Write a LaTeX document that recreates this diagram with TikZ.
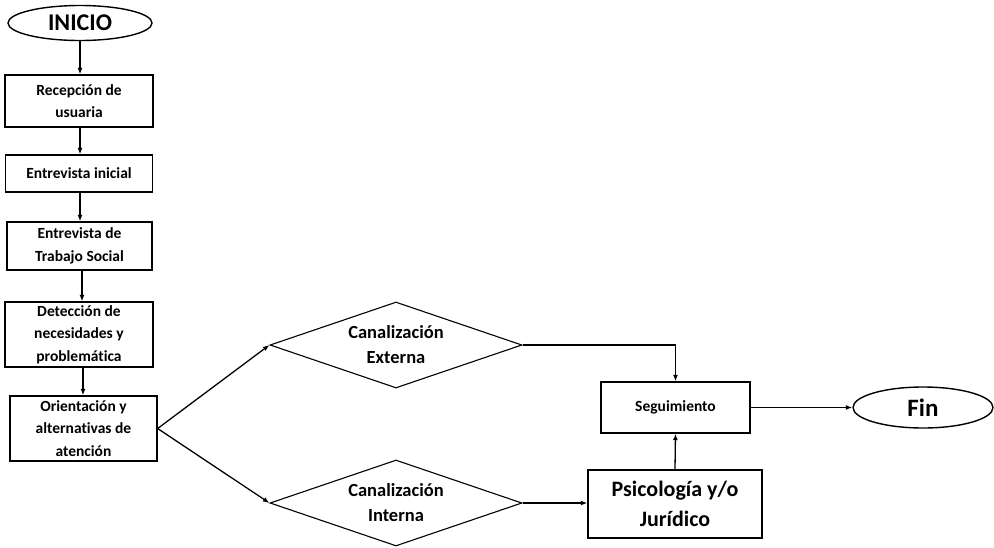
\documentclass[tikz,border=0pt]{standalone}
\usepackage{fontspec}
\setmainfont{Carlito}[Ligatures=NoCommon]
\usetikzlibrary{shapes.geometric,arrows.meta}
\begin{document}
\begin{tikzpicture}[x=1pt,y=-1pt,
  every node/.style={font=\bfseries},
  box/.style={draw,line width=1.3pt,rectangle,inner sep=0pt,align=center,font=\bfseries\fontsize{15.5}{22.5}\selectfont},
  term/.style={draw,line width=1.4pt,ellipse,inner sep=0pt},
  dia/.style={draw,line width=1.1pt,diamond,inner sep=0pt,aspect=2.9,align=center,font=\bfseries\fontsize{18.5}{25}\selectfont},
  arr/.style={line width=1.3pt,-{Latex[length=6.5pt,width=5pt]}}]
\useasboundingbox (0,0) rectangle (994,547);
\node[term,minimum width=144pt,minimum height=35pt,font=\bfseries\fontsize{24}{24}\selectfont] (inicio) at (80,23) {INICIO};
\node[box,minimum width=148pt,minimum height=52pt] (rec) at (79,101) {Recepción de\\usuaria};
\node[box,minimum width=147pt,minimum height=37pt] (ent) at (79,173.5) {Entrevista inicial};
\node[box,minimum width=145pt,minimum height=48pt] (ts) at (79.5,246) {Entrevista de\\Trabajo Social};
\node[box,minimum width=148pt,minimum height=65pt] (det) at (79,334.5) {Detección de\\necesidades y\\problemática};
\node[box,minimum width=147pt,minimum height=65pt] (ori) at (83.5,428.5) {Orientación y\\alternativas de\\atención};
\node[dia,minimum width=252pt,minimum height=86pt] (ext) at (396,345) {Canalización\\Externa};
\node[dia,minimum width=252pt,minimum height=86pt] (int) at (396,503) {Canalización\\Interna};
\node[box,minimum width=149pt,minimum height=51pt,font=\bfseries\fontsize{15.5}{18}\selectfont] (seg) at (675.5,407.5) {Seguimiento};
\node[box,minimum width=174pt,minimum height=68pt,font=\bfseries\fontsize{22}{30}\selectfont] (psi) at (675,504) {Psicología y/o\\Jurídico};
\node[term,minimum width=140pt,minimum height=41pt,font=\bfseries\fontsize{25}{25}\selectfont] (fin) at (923,407.5) {Fin};
\draw[arr] (inicio.south) -- (inicio.south |- rec.north);
\draw[arr] (rec.south -| 80,0) -- (ent.north -| 80,0);
\draw[arr] (ent.south -| 80,0) -- (ts.north -| 80,0);
\draw[arr] (ts.south -| 82,0) -- (det.north -| 82,0);
\draw[arr] (det.south -| 83,0) -- (ori.north -| 83,0);
\draw[arr] (ori.east) -- (ext.west);
\draw[arr] (ori.east) -- (int.west);
\draw[arr] (ext.east) -| (seg.north);
\draw[arr] (int.east) -- (psi.west |- int.east);
\draw[arr] (psi.north) -- (seg.south);
\draw[arr] (seg.east) -- (fin.west);
\end{tikzpicture}
\end{document}
